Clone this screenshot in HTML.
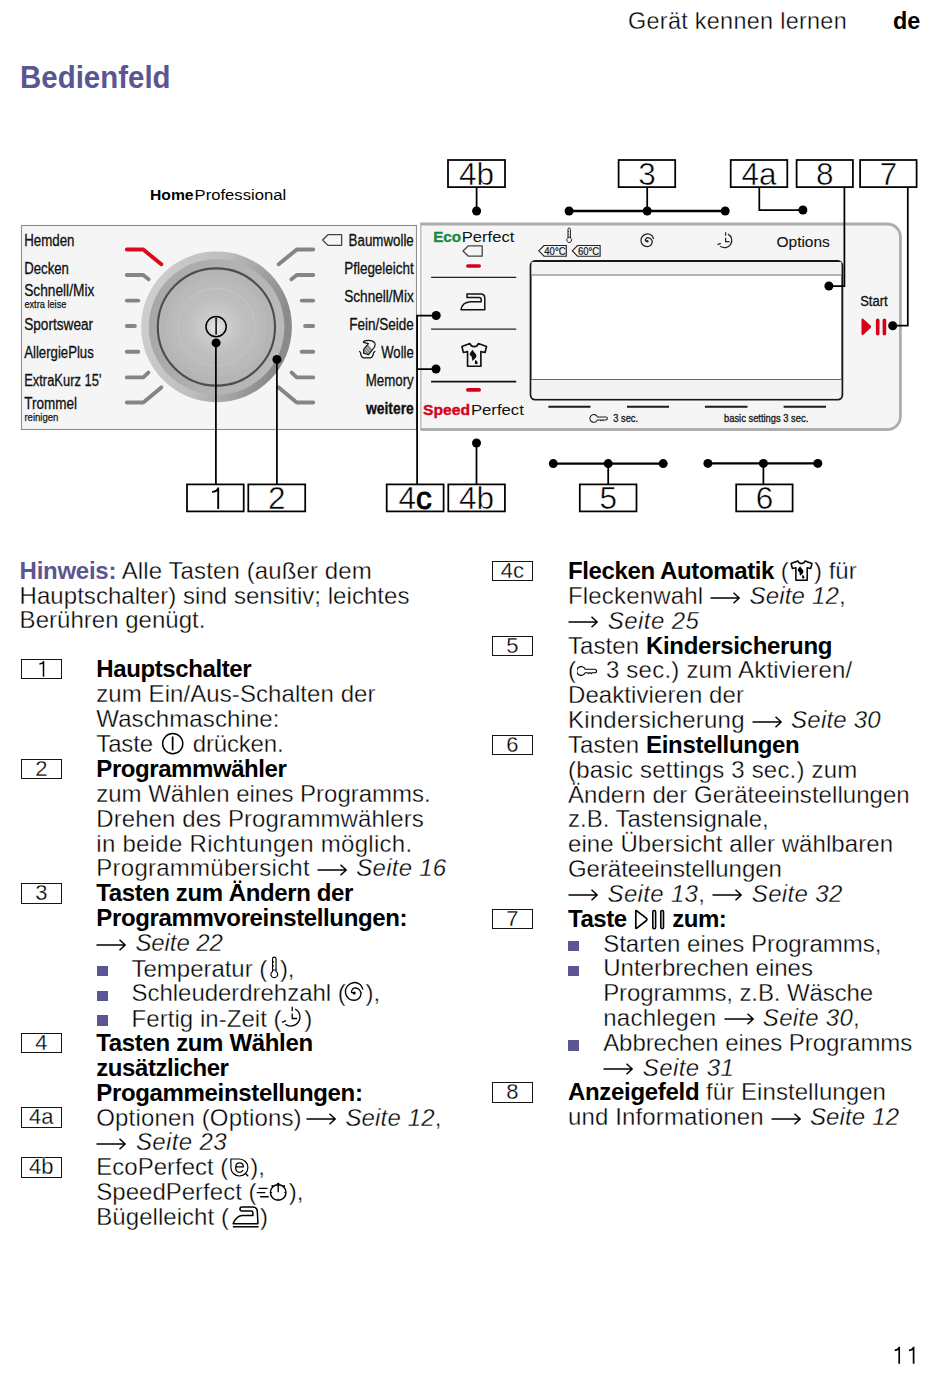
<!DOCTYPE html>
<html><head><meta charset="utf-8"><title>Bedienfeld</title>
<style>
*{margin:0;padding:0;box-sizing:border-box}
html,body{width:950px;height:1383px;background:#fff;overflow:hidden}
body{position:relative;font-family:"Liberation Sans",sans-serif;color:#000}
.ln{position:absolute;white-space:nowrap;font-size:24.0px;line-height:24.8px;letter-spacing:var(--ls)}
.ln i{font-style:italic}
.ln b{letter-spacing:calc(var(--ls) - 0.38px);-webkit-text-stroke:0}
.ln{-webkit-text-stroke:0.35px #fff}
.pu{color:#5a5691}
.bu{position:absolute;width:10.9px;height:10.4px;background:#5a5691}
.nb{position:absolute;width:41.5px;height:20.4px;border:1.4px solid #151515;font-size:22px;line-height:17.8px;text-align:center;letter-spacing:0;-webkit-text-stroke:0.3px #fff}
.ar{display:inline-block;vertical-align:0.5px;margin:0 2.4px 0 0.2px}
.ic{display:inline-block}
#hdr{position:absolute;left:628px;top:5.6px;font-size:23.4px;line-height:30px;letter-spacing:0.3px;white-space:nowrap;-webkit-text-stroke:0.35px #fff}
#de{position:absolute;left:893px;top:5.6px;font-size:23.4px;line-height:30px;font-weight:bold}
#ttl{position:absolute;left:19.6px;top:58.5px;font-size:31.5px;line-height:36px;font-weight:bold;color:#5a5691;transform:scaleX(0.935);transform-origin:0 0}
#pg{position:absolute;left:890px;top:1343px}
#dg{position:absolute;left:0;top:0}
</style></head><body>
<div id="hdr">Gerät kennen lernen</div>
<div id="de">de</div>
<div id="ttl">Bedienfeld</div>
<svg id="dg" width="950" height="530" viewBox="0 0 950 530" font-family="Liberation Sans, sans-serif">
<defs>
<linearGradient id="gOuter" x1="0" y1="0" x2="1" y2="0.25">
<stop offset="0" stop-color="#d2d2d2"/><stop offset="0.55" stop-color="#bdbdbd"/><stop offset="1" stop-color="#8a8a8a"/>
</linearGradient>
<linearGradient id="gMid" x1="0" y1="0" x2="1" y2="0.2">
<stop offset="0" stop-color="#a6a6a6"/><stop offset="1" stop-color="#b9b9b9"/>
</linearGradient>
<radialGradient id="gIn" cx="0.5" cy="0.5" r="0.5">
<stop offset="0" stop-color="#e6e6e6"/><stop offset="0.22" stop-color="#cdcdcd"/><stop offset="0.55" stop-color="#bfbfbf"/><stop offset="1" stop-color="#b8b8b8"/>
</radialGradient>
</defs>
<!-- HomeProfessional -->
<text x="150" y="199.9" font-size="15.4" font-weight="bold" textLength="43.6" lengthAdjust="spacingAndGlyphs">Home</text>
<text x="194.6" y="199.9" font-size="15.4" textLength="91.5" lengthAdjust="spacingAndGlyphs">Professional</text>

<!-- left panel -->
<rect x="21.5" y="225.5" width="395" height="204" fill="#f5f5f5" stroke="#8e8e8e" stroke-width="1.1"/>
<!-- right panel -->
<path d="M420.5 224H887.4A13 13 0 0 1 900.4 237V416.5A13 13 0 0 1 887.4 429.5H420.5Z" fill="#f5f5f5"/>
<path d="M420.5 224H887.4A13 13 0 0 1 900.4 237V416.5A13 13 0 0 1 887.4 429.5H420.5" fill="none" stroke="#adadad" stroke-width="2.8"/>
<path d="M420.9 223V430" stroke="#a0a0a0" stroke-width="1"/>

<!-- ticks -->
<g fill="none" stroke="#858585" stroke-width="3.9" stroke-linecap="round" stroke-linejoin="round">
<path d="M126.8 275H143.2L148.6 279.3"/>
<path d="M126.8 300.6H138.3"/>
<path d="M126.8 326H134.9"/>
<path d="M126.8 351.8H138.3"/>
<path d="M126.8 377.4H143.3L148.4 372.6"/>
<path d="M126.8 402.5H143.3L161.3 387.4"/>
<path d="M313.2 249.5H296.8L278.7 264.2"/>
<path d="M313.2 275H296.8L291.4 279.3"/>
<path d="M313.2 300.6H301.7"/>
<path d="M313.2 326H305.1"/>
<path d="M313.2 351.8H301.7"/>
<path d="M313.2 377.4H296.7L291.6 372.6"/>
<path d="M313.2 402.5H296.7L278.7 387.4"/>
</g>
<path d="M126.8 249.5H143.2L161.3 264.2" fill="none" stroke="#dc0a1e" stroke-width="3.9" stroke-linecap="round" stroke-linejoin="round"/>

<!-- dial -->
<circle cx="216.5" cy="326.8" r="75.4" fill="url(#gOuter)"/>
<circle cx="216.6" cy="327" r="67.8" fill="url(#gMid)"/>
<circle cx="216.4" cy="327" r="58.6" fill="#b5b5b5" stroke="#4d4d4d" stroke-width="2.1"/>
<circle cx="216.4" cy="327" r="50.5" fill="url(#gIn)"/>
<circle cx="216.4" cy="327" r="38.7" fill="none" stroke="#c8c8c8" stroke-width="0.8"/>
<circle cx="216.1" cy="326.7" r="10.1" fill="none" stroke="#000" stroke-width="1.5"/>
<path d="M216.1 317.5V334.5" stroke="#000" stroke-width="1.5"/>

<!-- left labels (condensed) -->
<g font-size="15.6" fill="#111" stroke="#111" stroke-width="0.3">
<text x="24.2" y="245.7" textLength="50.3" lengthAdjust="spacingAndGlyphs">Hemden</text>
<text x="24.2" y="274" textLength="44.7" lengthAdjust="spacingAndGlyphs">Decken</text>
<text x="24.2" y="296.3" textLength="70.1" lengthAdjust="spacingAndGlyphs">Schnell/Mix</text>
<text x="24.2" y="330" textLength="68.9" lengthAdjust="spacingAndGlyphs">Sportswear</text>
<text x="24.2" y="358.4" textLength="69.6" lengthAdjust="spacingAndGlyphs">AllergiePlus</text>
<text x="24.2" y="386.3" textLength="77.2" lengthAdjust="spacingAndGlyphs">ExtraKurz 15'</text>
<text x="24.2" y="409" textLength="52.8" lengthAdjust="spacingAndGlyphs">Trommel</text>
</g>
<g font-size="11.4" fill="#111" stroke="#111" stroke-width="0.25">
<text x="24.4" y="307.6" textLength="42" lengthAdjust="spacingAndGlyphs">extra leise</text>
<text x="24.4" y="421" textLength="34" lengthAdjust="spacingAndGlyphs">reinigen</text>
</g>
<!-- right labels -->
<g font-size="15.6" fill="#111" stroke="#111" stroke-width="0.3" text-anchor="end">
<text x="413.8" y="245.8" textLength="65.2" lengthAdjust="spacingAndGlyphs">Baumwolle</text>
<text x="413.8" y="273.6" textLength="69.6" lengthAdjust="spacingAndGlyphs">Pflegeleicht</text>
<text x="413.8" y="301.8" textLength="69.6" lengthAdjust="spacingAndGlyphs">Schnell/Mix</text>
<text x="413.8" y="330.2" textLength="64.6" lengthAdjust="spacingAndGlyphs">Fein/Seide</text>
<text x="413.8" y="358.1" textLength="32.6" lengthAdjust="spacingAndGlyphs">Wolle</text>
<text x="413.8" y="386.3" textLength="48.1" lengthAdjust="spacingAndGlyphs">Memory</text>
<text x="413.8" y="414.4" font-weight="bold" textLength="47.8" lengthAdjust="spacingAndGlyphs">weitere</text>
</g>
<!-- tag next to Baumwolle -->
<path d="M322.6 240L328 234.7H341.6V245.4H328Z" fill="none" stroke="#444" stroke-width="1.3" stroke-linejoin="round"/>
<!-- wool icon -->
<path d="M363.8 349L367.9 344.3L372.3 349.8L368.5 354.6L363.6 353.3Z" fill="#8a8a8a"/>
<path d="M364.8 348.2L369.4 353.6M366.3 346.5L370.9 351.8M364 351.2L367 354.2" stroke="#f0f0f0" stroke-width="0.6"/>
<path d="M363.4 342.4L368.4 343.6L363.8 349L363.6 353.3L368.5 354.6L372.3 349.8Q376.5 345.5 374.5 342.5Q372 339.8 366 340.6Q363 341 363.4 342.4Z" fill="none" stroke="#111" stroke-width="1.15" stroke-linejoin="round"/>
<path d="M359.2 351.2L360.4 352.4Q361 357.6 363.6 357.8H370.4Q373 357.6 373.6 352.4L375.4 351.3" fill="none" stroke="#111" stroke-width="1.2" stroke-linejoin="round"/>

<!-- right panel content -->
<text x="433.2" y="241.6" font-size="15.2" font-weight="bold" fill="#188c3e" stroke="#188c3e" stroke-width="0.35" textLength="28" lengthAdjust="spacingAndGlyphs">Eco</text>
<text x="461.8" y="241.6" font-size="15.2" fill="#111" textLength="52.5" lengthAdjust="spacingAndGlyphs">Perfect</text>
<path d="M463 251L468.4 245.8H482.2V256.2H468.4Z" fill="none" stroke="#444" stroke-width="1.3" stroke-linejoin="round"/>
<path d="M467.8 266H479.2" stroke="#d6001c" stroke-width="3.6" stroke-linecap="round"/>
<path d="M431.1 277.3H516.2" stroke="#222" stroke-width="1.3"/>
<!-- iron -->
<path d="M467 293.9H480.8Q484.8 293.9 484.8 298.2V309.8H461Q462 302.3 470.5 301.8H481.2V299.5Q481.2 297.4 479 297.4H467Z" fill="none" stroke="#111" stroke-width="1.5" stroke-linejoin="round"/>
<path d="M431.1 329.1H516.2" stroke="#222" stroke-width="1.3"/>
<g transform="translate(461.3 343) scale(1.18) translate(-791 -560.3)"><path d="M798.3 560.8L791.5 563.3L792.8 568.3L796.3 567.6V580H807.6V567.6L811.1 568.3L812.4 563.3L805.5 560.8Q804.5 563.4 801.9 563.4Q799.3 563.4 798.3 560.8Z" fill="none" stroke="#111" stroke-width="1.4" stroke-linejoin="round"/><path d="M800.5 566C799.5 567.5 798 568.8 798.1 570C798.3 571 799.5 571 799.8 572L800.4 575.6C801.8 574.5 803.9 572.8 803.9 571.2C803.9 569.5 801.5 568 800.5 566Z" fill="#111"/><path d="M802.9 574.6Q804.9 575.8 804.9 577.2A1.2 1.2 0 0 1 802.5 577.2Q802.5 576 802.9 574.6Z" fill="#111"/></g>
<path d="M431.1 381.6H516.2" stroke="#111" stroke-width="1.8"/>
<path d="M467.8 389.9H479.2" stroke="#d6001c" stroke-width="3.6" stroke-linecap="round"/>
<text x="423" y="414.9" font-size="15.4" font-weight="bold" fill="#d6001c" stroke="#d6001c" stroke-width="0.35" textLength="47" lengthAdjust="spacingAndGlyphs">Speed</text>
<text x="470.9" y="414.9" font-size="15" fill="#111" textLength="53" lengthAdjust="spacingAndGlyphs">Perfect</text>

<!-- display -->
<rect x="530.6" y="261" width="311.7" height="138.6" rx="4.5" fill="#fff" stroke="#161616" stroke-width="1.9"/>
<path d="M531.6 262H841.3V274.6H531.6Z" fill="#f3f3f3"/>
<path d="M531.6 380H841.3V395A3.6 3.6 0 0 1 837.7 398.6H535.2A3.6 3.6 0 0 1 531.6 395Z" fill="#f3f3f3"/>
<path d="M531.5 275.1H841.4" stroke="#9a9a9a" stroke-width="1.5"/>
<path d="M531.5 379.5H841.4" stroke="#666" stroke-width="1"/>
<!-- top icons -->
<g><path d="M567.97 238.08V229.26A1.22 1.22 0 0 1 570.41 229.26V238.08A2.38 2.38 0 1 1 567.97 238.08Z" fill="none" stroke="#222" stroke-width="1.0"/><path d="M567.97 237.10H570.41M567.97 231.43H568.98M567.97 234.16H568.98" stroke="#222" stroke-width="1.0"/></g>
<g font-size="10.8" fill="#111" stroke="#111" stroke-width="0.2">
<path d="M538.8 250.8L544 245.5H566.3V256.2H544Z" fill="none" stroke="#222" stroke-width="1.15"/>
<text x="544.3" y="254.5" textLength="21.3" lengthAdjust="spacingAndGlyphs">40°C</text>
<path d="M572.3 250.8L577.5 245.5H600.1V256.2H577.5Z" fill="none" stroke="#222" stroke-width="1.15"/>
<text x="577.9" y="254.5" textLength="21.3" lengthAdjust="spacingAndGlyphs">60°C</text>
</g>
<path d="M647.30 241.30C646.98 241.23 645.50 241.37 645.36 240.87C645.21 240.36 645.91 238.79 646.44 238.28C646.96 237.76 647.74 237.63 648.52 237.77C649.30 237.92 650.50 238.46 651.12 239.14C651.73 239.82 652.28 240.84 652.20 241.88C652.11 242.91 651.43 244.54 650.61 245.33C649.80 246.12 648.52 246.63 647.30 246.63C646.08 246.63 644.32 246.28 643.27 245.33C642.21 244.38 641.10 242.45 640.96 240.94C640.83 239.43 641.42 237.45 642.48 236.26C643.53 235.07 645.79 233.98 647.30 233.81C648.81 233.64 650.52 234.47 651.55 235.25C652.58 236.03 653.17 237.95 653.49 238.49" fill="none" stroke="#222" stroke-width="1.25" stroke-linecap="round"/><circle cx="647.3" cy="241.3" r="1.2" fill="#222"/>
<g><path d="M727.97 234.11 A7.19 7.19 0 1 1 720.15 246.11" fill="none" stroke="#222" stroke-width="1.2"/><path d="M725.60 232.37 V235.84 M725.60 237.74 V241.61 H729.47 M717.54 244.61 L720.78 243.35" fill="none" stroke="#222" stroke-width="1.2"/></g>
<text x="776.5" y="246.6" font-size="14.6" fill="#111" stroke="#111" stroke-width="0.1" textLength="53.3" lengthAdjust="spacingAndGlyphs">Options</text>
<!-- bottom buttons -->
<g stroke="#1a1a1a" stroke-width="2">
<path d="M548.4 406.7H590.5M627 406.7H669M704.9 406.7H747.5M783.6 406.7H826"/>
</g>
<path d="M597.4 416.9H605.9A1.5 1.5 0 0 1 605.9 419.9H603.6L603 420.8L602.4 419.9H601.3L600.7 420.8L600.1 419.9H597.4A3.9 3.9 0 1 1 597.4 416.9Z" fill="none" stroke="#222" stroke-width="1.05" stroke-linejoin="round"/>
<text x="613.3" y="422.2" font-size="11" fill="#222" stroke="#222" stroke-width="0.35" textLength="24.8" lengthAdjust="spacingAndGlyphs">3 sec.</text>
<text x="724" y="422.2" font-size="11" fill="#222" stroke="#222" stroke-width="0.35" textLength="84.3" lengthAdjust="spacingAndGlyphs">basic settings 3 sec.</text>
<!-- start -->
<text x="860.2" y="305.5" font-size="13.8" fill="#111" stroke="#111" stroke-width="0.3" textLength="27.4" lengthAdjust="spacingAndGlyphs">Start</text>
<path d="M861.5 320Q861.5 317.8 863.4 319.1L870.6 325.6Q871.6 326.9 870.6 328.1L863.4 334.7Q861.5 336 861.5 333.8Z" fill="#d6001c"/>
<rect x="875.9" y="318.4" width="3.6" height="17.1" rx="1.8" fill="#d6001c"/>
<rect x="882.6" y="318.4" width="3.6" height="17.1" rx="1.8" fill="#d6001c"/>

<!-- callouts -->
<path d="M218.2 487.6V508.9M218.4 488.2Q216.6 491.6 212.1 491.9" fill="none" stroke="#000" stroke-width="1.9"/>
<g fill="none" stroke="#000" stroke-width="1.75">
<rect x="448" y="160" width="57" height="27.1"/>
<rect x="618.6" y="160" width="56.6" height="27.1"/>
<rect x="730.7" y="160" width="56.6" height="27.1"/>
<rect x="796.6" y="160" width="56.3" height="27.1"/>
<rect x="860.1" y="160" width="56.5" height="27.1"/>
<rect x="187" y="484.4" width="56.7" height="27"/>
<rect x="248.3" y="484.4" width="56.9" height="27"/>
<rect x="386.7" y="484.4" width="56.9" height="27"/>
<rect x="448.3" y="484.4" width="56.6" height="27"/>
<rect x="579.8" y="484.4" width="56.7" height="27"/>
<rect x="736.2" y="484.4" width="56.4" height="27"/>
<path d="M476.6 187.8V211"/>
<path d="M647.2 187.8V211"/>
<path d="M759.3 187.8V210H802.9"/>
<path d="M844.4 187.8V286H828.9"/>
<path d="M907.8 187.8V325.7H892.7"/>
<path d="M215.9 342.9V484.4"/>
<path d="M276.9 359.4V484.4"/>
<path d="M417.1 484.4V315.5H436.2M417.1 369H436"/>
<path d="M476.5 443V484.4"/>
<path d="M608.2 463.6V484.4"/>
<path d="M763.4 463.4V484.4"/>
</g>
<g stroke="#000" stroke-width="2.3">
<path d="M569.1 211H725.2"/>
<path d="M553.3 463.6H663.2"/>
<path d="M707.9 463.4H817.8"/>
</g>
<g fill="#000">
<circle cx="476.6" cy="211" r="4.5"/>
<circle cx="569.1" cy="211" r="4.5"/><circle cx="647.2" cy="211" r="4.5"/><circle cx="725.2" cy="211" r="4.5"/>
<circle cx="802.9" cy="210" r="4.5"/>
<circle cx="828.9" cy="286" r="4.5"/>
<circle cx="892.7" cy="325.7" r="4.5"/>
<circle cx="216.1" cy="342.9" r="4.5"/>
<circle cx="276.9" cy="359.4" r="4.5"/>
<circle cx="436.2" cy="315.5" r="4.5"/>
<circle cx="436" cy="369" r="4.5"/>
<circle cx="476.5" cy="443" r="4.5"/>
<circle cx="553.3" cy="463.6" r="4.5"/><circle cx="608.2" cy="463.6" r="4.5"/><circle cx="663.2" cy="463.6" r="4.5"/>
<circle cx="707.9" cy="463.4" r="4.5"/><circle cx="763.4" cy="463.4" r="4.5"/><circle cx="817.8" cy="463.4" r="4.5"/>
</g>
<g font-size="31.5" fill="#000" stroke="#fff" stroke-width="0.5" text-anchor="middle">
<text x="476.5" y="184.7">4b</text>
<text x="647" y="184.7">3</text>
<text x="759" y="184.7">4a</text>
<text x="824.8" y="184.7">8</text>
<text x="888.4" y="184.7">7</text>
<text x="276.8" y="509.2">2</text>
<text x="415.2" y="509.2">4<tspan stroke="#000" stroke-width="0.9">c</tspan></text>
<text x="476.6" y="509.2">4b</text>
<text x="608.2" y="509.2">5</text>
<text x="764.4" y="509.2">6</text>
</g>
</svg>

<div class="ln" id="L0" style="left:19.6px;top:559.10px;--ls:0.117px"><b class="pu">Hinweis:</b> Alle Tasten (außer dem</div>
<div class="ln" id="L1" style="left:19.6px;top:583.70px;--ls:0.045px">Hauptschalter) sind sensitiv; leichtes</div>
<div class="ln" id="L2" style="left:19.6px;top:608.40px;--ls:0.025px">Berühren genügt.</div>
<div class="nb" style="left:20.5px;top:659.10px"><svg width="39" height="18" viewBox="21.8 660.40 39 18" style="position:absolute;left:0;top:0"><path d="M43.3 661.40V677.10M43.5 661.90Q42.2 664.20 39.2 664.50" fill="none" stroke="#000" stroke-width="1.5"/></svg></div>
<div class="ln" id="L4" style="left:96.3px;top:657.20px;--ls:-0.011px"><b>Hauptschalter</b></div>
<div class="ln" id="L5" style="left:96.3px;top:682.11px;--ls:0.075px">zum Ein/Aus-Schalten der</div>
<div class="ln" id="L6" style="left:96.3px;top:707.02px;--ls:0.101px">Waschmaschine:</div>
<div class="ln" id="L7" style="left:96.3px;top:731.93px;--ls:-0.167px">Taste <svg class="ic" width="23.5" height="23.2" viewBox="162.3 731.6 23.5 23.2" style="vertical-align:-2.97px;margin:0 1.5px 0 1.9px"><circle cx="174.05" cy="743.2" r="10.1" fill="none" stroke="#000" stroke-width="1.4"/><path d="M173.95 736.1V750" stroke="#000" stroke-width="1.7"/></svg> drücken.</div>
<div class="nb" style="left:20.5px;top:758.74px">2</div>
<div class="ln" id="L8" style="left:96.3px;top:756.84px;--ls:-0.048px"><b>Programmwähler</b></div>
<div class="ln" id="L9" style="left:96.3px;top:781.75px;--ls:-0.017px">zum Wählen eines Programms.</div>
<div class="ln" id="L10" style="left:96.3px;top:806.66px;--ls:0.080px">Drehen des Programmwählers</div>
<div class="ln" id="L11" style="left:96.3px;top:831.57px;--ls:0.283px">in beide Richtungen möglich.</div>
<div class="ln" id="L12" style="left:96.3px;top:856.48px;--ls:0.246px">Programmübersicht <svg class="ar" width="30" height="12" viewBox="0 0 30 12"><path d="M0.5 6H29M23.5 0.8L29.2 6L23.5 11.2" fill="none" stroke="#000" stroke-width="1.5"/></svg> <i>Seite 16</i></div>
<div class="nb" style="left:20.5px;top:883.29px">3</div>
<div class="ln" id="L13" style="left:96.3px;top:881.39px;--ls:-0.015px"><b>Tasten zum Ändern der</b></div>
<div class="ln" id="L14" style="left:96.3px;top:906.30px;--ls:0.010px"><b>Programmvoreinstellungen:</b></div>
<div class="ln" id="L15" style="left:96.3px;top:931.21px;--ls:-0.099px"><svg class="ar" width="30" height="12" viewBox="0 0 30 12"><path d="M0.5 6H29M23.5 0.8L29.2 6L23.5 11.2" fill="none" stroke="#000" stroke-width="1.5"/></svg> <i>Seite 22</i></div>
<div class="bu" style="left:97.0px;top:965.62px"></div>
<div class="ln" id="L16" style="left:131.6px;top:956.12px;--ls:-0.036px">Temperatur (<svg class="ic" width="9.2" height="22.6" viewBox="270.4 955.5 9.2 22.6" style="vertical-align:-2.08px;margin:0 1px 0 2.5px"><path d="M272.95 970.90V958.30A1.75 1.75 0 0 1 276.45 958.30V970.90A3.40 3.40 0 1 1 272.95 970.90Z" fill="none" stroke="#000" stroke-width="1.15"/><path d="M272.95 969.50H276.45M272.95 961.40H274.40M272.95 965.30H274.40" stroke="#000" stroke-width="1.15"/></svg>),</div>
<div class="bu" style="left:97.0px;top:990.53px"></div>
<div class="ln" id="L17" style="left:131.6px;top:981.03px;--ls:-0.041px">Schleuderdrehzahl (<svg class="ic" width="20.2" height="20.6" viewBox="345.6 980.6 20.2 20.6" style="vertical-align:-0.27px;margin:0 1px 0 -1.2px"><path d="M355.80 992.50C355.35 992.40 353.30 992.60 353.10 991.90C352.90 991.20 353.87 989.02 354.60 988.30C355.33 987.58 356.42 987.40 357.50 987.60C358.58 987.80 360.25 988.55 361.10 989.50C361.95 990.45 362.72 991.87 362.60 993.30C362.48 994.73 361.53 997.00 360.40 998.10C359.27 999.20 357.50 999.90 355.80 999.90C354.10 999.90 351.67 999.42 350.20 998.10C348.73 996.78 347.18 994.10 347.00 992.00C346.82 989.90 347.63 987.15 349.10 985.50C350.57 983.85 353.70 982.33 355.80 982.10C357.90 981.87 360.27 983.02 361.70 984.10C363.13 985.18 363.95 987.85 364.40 988.60" fill="none" stroke="#000" stroke-width="1.35" stroke-linecap="round"/><circle cx="355.8" cy="992.5" r="1.5"/></svg>),</div>
<div class="bu" style="left:97.0px;top:1015.44px"></div>
<div class="ln" id="L18" style="left:131.6px;top:1005.94px;--ls:0.044px">Fertig in-Zeit (<svg class="ic" width="22.4" height="22.2" viewBox="280.4 1005.3 22.4 22.2" style="vertical-align:-1.66px;margin:0 1px 0 -0.9px"><path d="M294.60 1008.30 A9.10 9.10 0 1 1 284.70 1023.50" fill="none" stroke="#000" stroke-width="1.3"/><path d="M291.60 1006.10 V1010.50 M291.60 1012.90 V1017.80 H296.50 M281.40 1021.60 L285.50 1020.00" fill="none" stroke="#000" stroke-width="1.3"/></svg>)</div>
<div class="nb" style="left:20.5px;top:1032.75px">4</div>
<div class="ln" id="L19" style="left:96.3px;top:1030.85px;--ls:0.036px"><b>Tasten zum Wählen</b></div>
<div class="ln" id="L20" style="left:96.3px;top:1055.76px;--ls:-0.051px"><b>zusätzlicher</b></div>
<div class="ln" id="L21" style="left:96.3px;top:1080.67px;--ls:0.040px"><b>Progammeinstellungen:</b></div>
<div class="nb" style="left:20.5px;top:1107.48px">4a</div>
<div class="ln" id="L22" style="left:96.3px;top:1105.58px;--ls:0.146px">Optionen (Options) <svg class="ar" style="margin-left:-2.3px" width="30" height="12" viewBox="0 0 30 12"><path d="M0.5 6H29M23.5 0.8L29.2 6L23.5 11.2" fill="none" stroke="#000" stroke-width="1.5"/></svg> <i>Seite 12</i>,</div>
<div class="ln" id="L23" style="left:96.3px;top:1130.49px;--ls:0.369px"><svg class="ar" width="30" height="12" viewBox="0 0 30 12"><path d="M0.5 6H29M23.5 0.8L29.2 6L23.5 11.2" fill="none" stroke="#000" stroke-width="1.5"/></svg> <i>Seite 23</i></div>
<div class="nb" style="left:20.5px;top:1157.30px">4b</div>
<div class="ln" id="L24" style="left:96.3px;top:1155.40px;--ls:0.000px">EcoPerfect (<svg class="ic" width="19.2" height="19.2" viewBox="230.4 1157.6 19.2 19.2" style="vertical-align:-1.50px;margin:0 1px 0 1.8px"><path d="M231.3 1158.6H239.8A8.5 8.5 0 0 1 248.3 1167.1A8.5 8.5 0 0 1 239.8 1175.6A8.5 8.5 0 0 1 231.3 1167.1Z" fill="none" stroke="#000" stroke-width="1.2"/><path d="M245.6 1172.9L248.6 1175.9" stroke="#000" stroke-width="1.2"/><path d="M236.2 1166.6H243.8C243.8 1164 242.2 1162.4 240 1162.4C237.7 1162.4 236.1 1164.3 236.1 1167.1C236.1 1170 237.7 1171.9 240 1171.9C241.6 1171.9 242.8 1171 243.5 1169.6" fill="none" stroke="#000" stroke-width="1.25"/></svg>),</div>
<div class="ln" id="L25" style="left:96.3px;top:1180.31px;--ls:0.008px">SpeedPerfect (<svg class="ic" width="31.6" height="19.9" viewBox="256.3 1181.6 31.6 19.9" style="vertical-align:-1.29px;margin:0 1px 0 -0.4px"><path d="M258.8 1188H267.8M257 1192.2H265.6M260.4 1196.4H269" stroke="#000" stroke-width="1.35"/><circle cx="278.5" cy="1192.1" r="7.8" fill="none" stroke="#000" stroke-width="1.45"/><path d="M278.5 1183.6V1191.8" stroke="#000" stroke-width="1.4"/><circle cx="278.5" cy="1183.6" r="1.3"/><circle cx="272.7" cy="1185.6" r="1.1"/><circle cx="284.3" cy="1185.6" r="1.1"/><path d="M271.2 1192.1H272.4M284.6 1192.1H285.8M278.5 1198.4V1199.6" stroke="#000" stroke-width="1"/></svg>),</div>
<div class="ln" id="L26" style="left:96.3px;top:1205.22px;--ls:0.047px">Bügelleicht (<svg class="ic" width="27.2" height="22.1" viewBox="231.5 1205.8 27.2 22.1" style="vertical-align:-2.78px;margin:0 1px 0 2.9px"><path d="M241.5 1206.9H252.5Q256.6 1206.9 256.8 1211L257.5 1223.6H232.6Q236 1215.3 242 1215.3H252.4V1212.5Q252.4 1210.9 250.8 1210.9H241.5A2 2 0 0 1 241.5 1206.9Z" fill="none" stroke="#000" stroke-width="1.5" stroke-linejoin="round"/><path d="M232.4 1226.6H258.1" stroke="#000" stroke-width="1.5"/></svg>)</div>
<div class="nb" style="left:491.7px;top:561.10px">4c</div>
<div class="ln" id="R0" style="left:568.0px;top:559.20px;--ls:0.000px"><b>Flecken Automatik</b> (<svg class="ic" width="22.7" height="21.2" viewBox="790.4 559.8 22.7 21.2" style="vertical-align:-1.90px;margin:0 1px 0 1.6px"><path d="M798.3 560.8L791.5 563.3L792.8 568.3L796.3 567.6V580H807.6V567.6L811.1 568.3L812.4 563.3L805.5 560.8Q804.5 563.4 801.9 563.4Q799.3 563.4 798.3 560.8Z" fill="none" stroke="#000" stroke-width="1.5" stroke-linejoin="round"/><path d="M800.5 566C799.5 567.5 798 568.8 798.1 570C798.3 571 799.5 571 799.8 572L800.4 575.6C801.8 574.5 803.9 572.8 803.9 571.2C803.9 569.5 801.5 568 800.5 566Z"/><path d="M802.9 574.6Q804.9 575.8 804.9 577.2A1.2 1.2 0 0 1 802.5 577.2Q802.5 576 802.9 574.6Z"/></svg>) für</div>
<div class="ln" id="R1" style="left:568.0px;top:584.02px;--ls:0.173px">Fleckenwahl <svg class="ar" width="30" height="12" viewBox="0 0 30 12"><path d="M0.5 6H29M23.5 0.8L29.2 6L23.5 11.2" fill="none" stroke="#000" stroke-width="1.5"/></svg> <i>Seite 12</i>,</div>
<div class="ln" id="R2" style="left:568.0px;top:608.84px;--ls:0.456px"><svg class="ar" width="30" height="12" viewBox="0 0 30 12"><path d="M0.5 6H29M23.5 0.8L29.2 6L23.5 11.2" fill="none" stroke="#000" stroke-width="1.5"/></svg> <i>Seite 25</i></div>
<div class="nb" style="left:491.7px;top:635.56px">5</div>
<div class="ln" id="R3" style="left:568.0px;top:633.66px;--ls:0.081px">Tasten <b>Kindersicherung</b></div>
<div class="ln" id="R4" style="left:568.0px;top:658.48px;--ls:0.224px">(<svg class="ic" width="20.4" height="10.4" viewBox="576.4 665.9 20.4 10.4" style="vertical-align:2.08px;margin:0 2px 0 0.4px"><path d="M584.6 669.2H594.3A1.7 1.7 0 0 1 594.3 672.6H591.6L590.9 673.6L590.2 672.6H588.9L588.2 673.6L587.5 672.6H584.6A4.4 4.4 0 1 1 584.6 669.2Z" fill="none" stroke="#000" stroke-width="1.1" stroke-linejoin="round"/></svg> 3 sec.) zum Aktivieren/</div>
<div class="ln" id="R5" style="left:568.0px;top:683.30px;--ls:0.081px">Deaktivieren der</div>
<div class="ln" id="R6" style="left:568.0px;top:708.12px;--ls:0.220px">Kindersicherung <svg class="ar" width="30" height="12" viewBox="0 0 30 12"><path d="M0.5 6H29M23.5 0.8L29.2 6L23.5 11.2" fill="none" stroke="#000" stroke-width="1.5"/></svg> <i>Seite 30</i></div>
<div class="nb" style="left:491.7px;top:734.84px">6</div>
<div class="ln" id="R7" style="left:568.0px;top:732.94px;--ls:0.083px">Tasten <b>Einstellungen</b></div>
<div class="ln" id="R8" style="left:568.0px;top:757.76px;--ls:0.198px">(basic settings 3 sec.) zum</div>
<div class="ln" id="R9" style="left:568.0px;top:782.58px;--ls:0.051px">Ändern der Geräteeinstellungen</div>
<div class="ln" id="R10" style="left:568.0px;top:807.40px;--ls:-0.015px">z.B. Tastensignale,</div>
<div class="ln" id="R11" style="left:568.0px;top:832.22px;--ls:0.076px">eine Übersicht aller wählbaren</div>
<div class="ln" id="R12" style="left:568.0px;top:857.04px;--ls:-0.056px">Geräteeinstellungen</div>
<div class="ln" id="R13" style="left:568.0px;top:881.86px;--ls:0.329px"><svg class="ar" width="30" height="12" viewBox="0 0 30 12"><path d="M0.5 6H29M23.5 0.8L29.2 6L23.5 11.2" fill="none" stroke="#000" stroke-width="1.5"/></svg> <i>Seite 13</i>, <svg class="ar" width="30" height="12" viewBox="0 0 30 12"><path d="M0.5 6H29M23.5 0.8L29.2 6L23.5 11.2" fill="none" stroke="#000" stroke-width="1.5"/></svg> <i>Seite 32</i></div>
<div class="nb" style="left:491.7px;top:908.58px">7</div>
<div class="ln" id="R14" style="left:568.0px;top:906.68px;--ls:-0.061px"><b>Taste <svg class="ic" width="31.0" height="21.2" viewBox="634.2 908.4 31.0 21.2" style="vertical-align:-3.02px;margin:0 1px 0 1px"><path d="M636 910.6Q636 909.6 637 910.3L646.7 917.8Q647.6 918.9 646.7 919.9L637 927.5Q636 928.2 636 927.2Z" fill="none" stroke="#000" stroke-width="1.7" stroke-linejoin="round"/><rect x="653" y="909.9" width="2.8" height="18.2" rx="1.4" fill="none" stroke="#000" stroke-width="1.6"/><rect x="661" y="909.9" width="2.7" height="18.2" rx="1.35" fill="none" stroke="#000" stroke-width="1.6"/></svg> zum:</b></div>
<div class="bu" style="left:568.0px;top:941.00px"></div>
<div class="ln" id="R15" style="left:603.2px;top:931.50px;--ls:-0.022px">Starten eines Programms,</div>
<div class="bu" style="left:568.0px;top:965.82px"></div>
<div class="ln" id="R16" style="left:603.2px;top:956.32px;--ls:0.020px">Unterbrechen eines</div>
<div class="ln" id="R17" style="left:603.2px;top:981.14px;--ls:-0.098px">Programms, z.B. Wäsche</div>
<div class="ln" id="R18" style="left:603.2px;top:1005.96px;--ls:0.270px">nachlegen <svg class="ar" width="30" height="12" viewBox="0 0 30 12"><path d="M0.5 6H29M23.5 0.8L29.2 6L23.5 11.2" fill="none" stroke="#000" stroke-width="1.5"/></svg> <i>Seite 30</i>,</div>
<div class="bu" style="left:568.0px;top:1040.28px"></div>
<div class="ln" id="R19" style="left:603.2px;top:1030.78px;--ls:-0.074px">Abbrechen eines Programms</div>
<div class="ln" id="R20" style="left:603.2px;top:1055.60px;--ls:0.409px"><svg class="ar" width="30" height="12" viewBox="0 0 30 12"><path d="M0.5 6H29M23.5 0.8L29.2 6L23.5 11.2" fill="none" stroke="#000" stroke-width="1.5"/></svg> <i>Seite 31</i></div>
<div class="nb" style="left:491.7px;top:1082.32px">8</div>
<div class="ln" id="R21" style="left:568.0px;top:1080.42px;--ls:0.071px"><b>Anzeigefeld</b> für Einstellungen</div>
<div class="ln" id="R22" style="left:568.0px;top:1105.24px;--ls:0.135px">und Informationen <svg class="ar" width="30" height="12" viewBox="0 0 30 12"><path d="M0.5 6H29M23.5 0.8L29.2 6L23.5 11.2" fill="none" stroke="#000" stroke-width="1.5"/></svg> <i>Seite 12</i></div>
<svg id="pg" width="30" height="24" viewBox="890 1343 30 24"><path d="M899.2 1346.8V1363.8M899.4 1347.3Q898 1350 894.7 1350.3M913.6 1346.8V1363.8M913.8 1347.3Q912.4 1350 909.1 1350.3" fill="none" stroke="#000" stroke-width="1.7"/></svg>
</body></html>
